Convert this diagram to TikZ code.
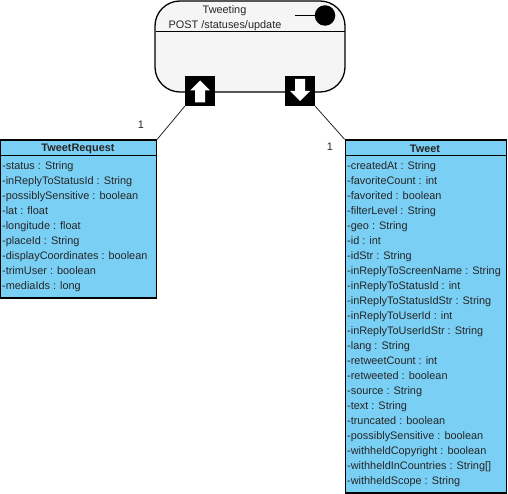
\documentclass[tikz,border=0pt]{standalone}
\usepackage{fontspec}
\setmainfont{Liberation Sans}
\definecolor{classfill}{HTML}{7ACFF5}
\definecolor{statefill}{HTML}{F5F5F5}
\tikzset{
  umlline/.style={draw=black,line width=1.3pt},
  txt/.style={font=\fontsize{10.9pt}{15pt}\selectfont,inner sep=0pt,text=black!85},
  attrs/.style={txt,anchor=north west,align=left},
  pinbox/.style={fill=black,draw=none,minimum size=30pt,inner sep=0pt},
  conn/.style={draw=black!85,line width=0.8pt},
}
\begin{document}
\begin{tikzpicture}[x=1pt,y=-1pt]
\useasboundingbox (0,0) rectangle (508,494);
% state
\node[umlline,fill=statefill,rounded corners=25pt,minimum width=190pt,minimum height=91pt,inner sep=0pt] (state) at (250,46.5) {};
\draw[umlline] (155.5,31.5) -- (345,31.5);
\node[txt] (statename) at (224.5,10.5) {Tweeting};
\node[txt] (statepath) at (225,25.5) {POST /statuses/update};
\node[circle,fill=black,minimum size=20.5pt,inner sep=0pt] (ball) at (325,15.5) {};
\coordinate (balltail) at (295,15.5);
\draw[line width=1pt] (balltail) -- (ball);
% pins
\node[pinbox] (pinin) at (200,91) {};
\node[pinbox] (pinout) at (300,91) {};
\fill[white] (200,80.5) -- (210,90.5) -- (205,90.5) -- (205,102.5) -- (195,102.5) -- (195,90.5) -- (190,90.5) -- cycle;
\fill[white] (295,79) -- (305,79) -- (305,91) -- (310,91) -- (300,101) -- (290,91) -- (295,91) -- cycle;
% classes
\node[umlline,fill=classfill,minimum width=156pt,minimum height=158pt,inner sep=0pt] (req) at (78.5,219) {};
\draw[umlline] (0.5,155.5) -- (156.5,155.5);
\node[txt,font=\fontsize{10.9pt}{15pt}\selectfont\bfseries] (reqname) at (78,149) {TweetRequest};
\node[attrs] (reqattrs) at (2,161.5) {-status : String\\
-inReplyToStatusId : String\\
-possiblySensitive : boolean\\
-lat : float\\
-longitude : float\\
-placeId : String\\
-displayCoordinates : boolean\\
-trimUser : boolean\\
-mediaIds : long};
\node[umlline,fill=classfill,minimum width=161.5pt,minimum height=353pt,inner sep=0pt] (tweet) at (426,316.5) {};
\draw[umlline] (345.5,155.5) -- (506.5,155.5);
\node[txt,font=\fontsize{10.9pt}{15pt}\selectfont\bfseries] (tweetname) at (425,149) {Tweet};
\node[attrs] (tweetattrs) at (347,161.5) {-createdAt : String\\
-favoriteCount : int\\
-favorited : boolean\\
-filterLevel : String\\
-geo : String\\
-id : int\\
-idStr : String\\
-inReplyToScreenName : String\\
-inReplyToStatusId : int\\
-inReplyToStatusIdStr : String\\
-inReplyToUserId : int\\
-inReplyToUserIdStr : String\\
-lang : String\\
-retweetCount : int\\
-retweeted : boolean\\
-source : String\\
-text : String\\
-truncated : boolean\\
-possiblySensitive : boolean\\
-withheldCopyright : boolean\\
-withheldInCountries : String[]\\
-withheldScope : String};
% connectors
\draw[conn] (pinin.south west) -- (req.north east);
\draw[conn] (pinout.south east) -- (tweet.north west);
\node[txt] (mult1) at (141,125) {1};
\node[txt] (mult2) at (330,147) {1};
\end{tikzpicture}
\end{document}
